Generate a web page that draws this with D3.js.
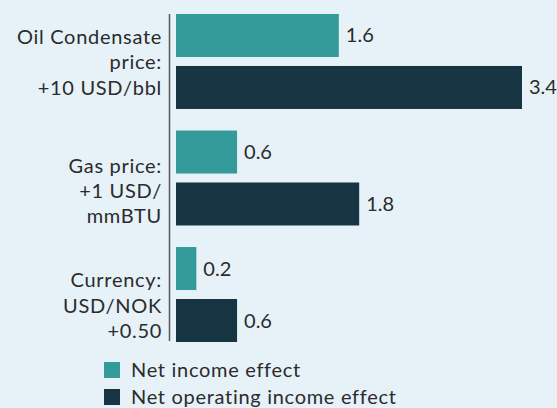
<!DOCTYPE html>
<html>
<head>
<meta charset="utf-8">
<script src="https://cdn.jsdelivr.net/npm/d3@7"></script>
<style>
  body { margin: 0; background: #e6f1f8; }
  text { font-family: Lato, "Noto Sans", sans-serif; fill: #2b2b2b; font-size: 20px; letter-spacing: 0.7px; }
  text.val { letter-spacing: 0; }
</style>
</head>
<body>
<div id="chart"></div>
<script>
const categories = ['oil', 'gas', 'fx']
const categoryLabels = [
  ['Oil Condensate', 'price:', '+10 USD/bbl'],
  ['Gas price:', '+1 USD/', 'mmBTU'],
  ['Currency:', 'USD/NOK', '+0.50']
]
const seriesNames = ['Net income effect', 'Net operating income effect']
const netIncome = [1.6, 0.6, 0.2]
const netOperating = [3.4, 1.8, 0.6]
const seriesColors = ['#349a9a', '#163441']

const width = 557, height = 408
const marginLeft = 176, marginTop = 14
// vertical nudge of each category label block
const labelNudge = [1, 13, 11]

const svg = d3.select('#chart').append('svg')
  .attr('width', width)
  .attr('height', height)

svg.append('rect').attr('width', width).attr('height', height).attr('fill', '#e6f1f8')

const x = d3.scaleLinear().domain([0, 3.4]).range([marginLeft, 522])
const y0 = d3.scaleBand().domain(categories).range([marginTop, 342]).paddingInner(0.185).paddingOuter(0)
const y1 = d3.scaleBand().domain([0, 1]).range([0, y0.bandwidth()]).paddingInner(0.173)

const rows = categories.map((c, i) => ({ c, i, vals: [netIncome[i], netOperating[i]], lab: categoryLabels[i] }))

// axis line
svg.append('line')
  .attr('x1', 169.5).attr('x2', 169.5)
  .attr('y1', marginTop).attr('y2', 341)
  .attr('stroke', '#5a5a5a').attr('stroke-width', 1.5)

const g = svg.selectAll('.grp').data(rows).enter().append('g')
  .attr('transform', d => `translate(0, ${y0(d.c)})`)

g.selectAll('rect').data(d => d.vals).enter().append('rect')
  .attr('x', x(0))
  .attr('y', (d, i) => y1(i))
  .attr('width', d => x(d) - x(0))
  .attr('height', y1.bandwidth())
  .attr('fill', (d, i) => seriesColors[i])

g.selectAll('.val').data(d => d.vals).enter().append('text')
  .attr('class', 'val')
  .attr('x', d => x(d) + 7)
  .attr('y', (d, i) => y1(i) + y1.bandwidth() / 2)
  .attr('dy', '0.35em')
  .text(d => d.toFixed(1))

g.append('text')
  .attr('text-anchor', 'end')
  .attr('y', d => y0.bandwidth() / 2 + labelNudge[d.i])
  .selectAll('tspan').data(d => d.lab).enter().append('tspan')
  .attr('x', 162)
  .attr('dy', (d, i, n) => i === 0 ? `${0.35 - (n.length - 1) * 1.27 / 2}em` : '1.27em')
  .text(d => d)

const legend = svg.append('g').attr('transform', 'translate(104, 362)')
legend.selectAll('rect').data(seriesNames).enter().append('rect')
  .attr('x', 0).attr('y', (d, i) => i * 27)
  .attr('width', 16).attr('height', 16)
  .attr('fill', (d, i) => seriesColors[i])
legend.selectAll('text').data(seriesNames).enter().append('text')
  .attr('x', 27).attr('y', (d, i) => i * 27 + 8)
  .attr('dy', '0.35em')
  .text(d => d)
</script>
</body>
</html>
